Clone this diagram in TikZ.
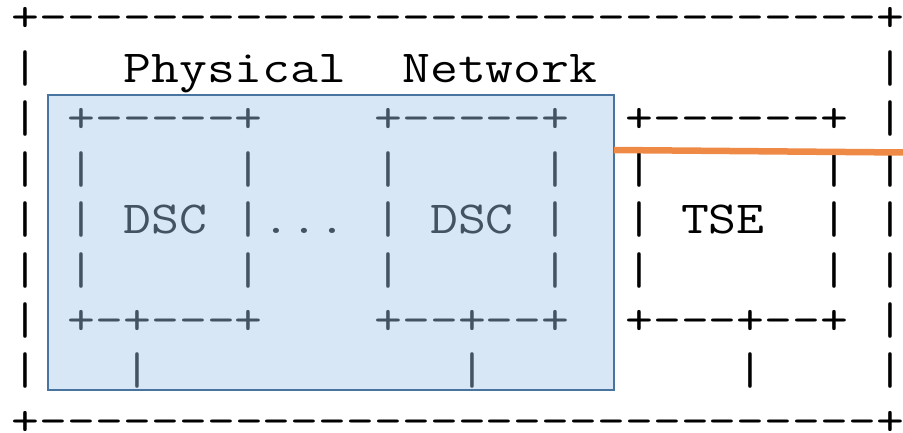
\documentclass[tikz,border=0pt]{standalone}
\usepackage{fontspec}
\setmonofont{Latin Modern Mono}[FakeStretch=1.182]
\definecolor{asciiink}{RGB}{0,0,0}
\definecolor{netfill}{RGB}{163,198,233}
\definecolor{netedge}{RGB}{74,116,160}
\definecolor{linkorange}{RGB}{238,138,69}
% an empty character cell of the current monospaced font
\newcommand\cellblank{\hphantom{x}}
\tikzset{
  asciirow/.style={anchor=base west, inner sep=0pt, outer sep=0pt, text=asciiink,
    font=\ttfamily\fontsize{45.8}{50}\selectfont\let~\cellblank},
  netbox/.style={draw=netedge, line width=2.5pt, fill=netfill, fill opacity=0.42,
    inner sep=0pt, outer sep=0pt},
  linkline/.style={draw=linkorange, line width=6.5pt}
}
\begin{document}
\begin{tikzpicture}[x=1pt, y=-1pt]
\useasboundingbox (0,0) rectangle (903,433);
% monospaced rows of the drawing, one per text line
\node[asciirow] (r0) at (12,32.0)  {+------------------------------+};
\node[asciirow] (r1) at (12,82.4)  {|~~~Physical~~Network~~~~~~~~~~|};
\node[asciirow] (r2) at (12,132.8) {|~+-----+~~~~+-----+~~+------+~|};
\node[asciirow] (r3) at (12,183.2) {|~|~~~~~|~~~~|~~~~~|~~|~~~~~~|~|};
\node[asciirow] (r4) at (12,233.6) {|~|~DSC~|...~|~DSC~|~~|~TSE~~|~|};
\node[asciirow] (r5) at (12,284.0) {|~|~~~~~|~~~~|~~~~~|~~|~~~~~~|~|};
\node[asciirow] (r6) at (12,334.4) {|~+-+---+~~~~+--+--+~~+---+--+~|};
\node[asciirow] (r7) at (12,384.8) {|~~~|~~~~~~~~~~~|~~~~~~~~~|~~~~|};
\node[asciirow] (r8) at (12,435.2) {+------------------------------+};
% shaded physical network area
\node[netbox, minimum width=566pt, minimum height=295pt] (net) at (331,242.5) {};
% orange link from the network area to the right edge
\coordinate (la) at (net.east |- 0,150);
\coordinate (lb) at (903,152.5);
\draw[linkline] (la) -- (lb);
\end{tikzpicture}
\end{document}
